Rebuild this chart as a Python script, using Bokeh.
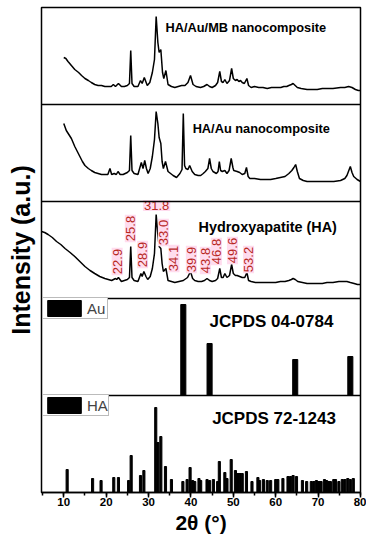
import math
import numpy as np
from bokeh.plotting import figure
from bokeh.models import Range1d, Span, Legend, LegendItem, SingleIntervalTicker, FixedTicker
from bokeh.core.properties import value
from bokeh.embed import file_html
from bokeh.resources import INLINE

FONT = "Liberation Sans"
PANEL = 97

# ---- HA/Au/MB nanocomposite (top) ----
mb_tt = [10.0, 10.5, 11.0, 12.0, 12.6, 13.5, 14.2, 15.0, 15.8, 16.5,
         17.3, 18.1, 18.9, 19.7, 20.5, 21.2, 21.7, 22.2, 22.9, 23.6,
         24.3, 25.0, 25.5, 25.8, 26.1, 26.6, 27.5, 28.1, 28.5, 29.0,
         29.7, 30.3, 30.9, 31.4, 31.8, 32.2, 32.5, 32.9, 33.3, 33.6,
         34.1, 34.6, 35.4, 36.2, 37.0, 37.8, 38.6, 39.3, 39.9, 40.5,
         41.2, 42.25, 43.0, 43.8, 44.4, 45.0, 45.8, 46.3, 46.8, 47.2,
         47.6, 48.0, 48.5, 49.1, 49.6, 50.0, 50.5, 50.9, 51.3, 51.7,
         52.1, 52.6, 53.2, 53.6, 54.2, 55.0, 56.0, 57.0, 58.0, 59.0,
         60.3, 61.2, 61.9, 62.6, 63.1, 63.7, 64.1, 64.6, 65.1, 66.0,
         67.4, 68.5, 69.8, 71.0, 72.1, 73.5, 75.3, 76.3, 77.2, 78.0,
         78.8, 79.5, 80.0]
mb_int = [47, 46, 43, 38, 35, 32, 29, 26, 24, 22,
          20, 19, 19, 18, 18, 18, 20, 18, 21, 18,
          18, 19, 21, 54, 21, 18, 18, 24, 21, 27,
          19, 22, 32, 45, 88, 62, 52, 55, 32, 26,
          34, 20, 18, 17, 18, 19, 19, 22, 29, 20,
          18, 17, 18, 20, 18, 17, 19, 22, 33, 23,
          22, 25, 21, 24, 36, 26, 24, 25, 23, 24,
          22, 21, 26, 19, 17, 18, 17, 17, 16, 17,
          17, 17, 18, 18, 19, 20, 21, 19, 17, 16,
          15, 15, 15, 16, 16, 16, 17, 17, 18, 17,
          15, 14, 14]

# ---- HA/Au nanocomposite ----
au_tt = [10.0, 10.6, 11.2, 11.8, 12.6, 13.2, 13.8, 14.4, 15.0, 15.8,
         16.5, 17.3, 18.1, 18.9, 19.7, 20.4, 20.9, 21.3, 21.9, 22.4,
         22.8, 23.3, 24.0, 25.0, 25.5, 25.8, 26.1, 26.6, 27.5, 28.3,
         28.7, 29.1, 29.5, 29.9, 30.4, 30.9, 31.4, 31.8, 32.2, 32.5,
         32.9, 33.2, 33.5, 34.0, 34.6, 35.2, 35.8, 36.6, 37.4, 37.9,
         38.2, 38.5, 38.8, 39.3, 39.7, 40.3, 40.9, 41.7, 42.3, 42.9,
         43.4, 44.0, 44.4, 44.8, 45.2, 46.0, 46.4, 46.7, 47.0, 47.4,
         48.0, 48.5, 49.0, 49.5, 49.9, 50.1, 50.9, 51.5, 52.1, 52.7,
         53.1, 53.5, 53.9, 55.0, 56.4, 57.6, 58.8, 60.0, 61.1, 62.2,
         63.1, 63.8, 64.3, 64.7, 65.1, 65.6, 66.5, 67.4, 68.6, 69.8,
         71.0, 72.1, 73.7, 75.3, 76.3, 76.8, 77.6, 78.0, 78.4, 79.2,
         80.0]
au_int = [78, 71, 67, 63, 55, 50, 45, 40, 36, 33,
          31, 29, 28, 27, 27, 27, 33, 27, 28, 27,
          30, 27, 27, 29, 31, 66, 31, 28, 27, 39,
          33, 41, 33, 28, 33, 45, 62, 90, 78, 64,
          58, 40, 33, 40, 30, 28, 26, 24, 28, 32,
          88, 36, 33, 32, 36, 30, 27, 26, 26, 28,
          30, 33, 43, 33, 30, 28, 30, 40, 31, 30,
          31, 28, 31, 43, 34, 31, 30, 29, 27, 28,
          34, 25, 23, 23, 22, 22, 22, 23, 24, 25,
          28, 31, 34, 37, 30, 23, 21, 20, 20, 20,
          20, 20, 20, 21, 23, 26, 35, 29, 25, 22,
          20]

# ---- Hydroxyapatite (HA) ----
ha_tt = [4.75, 5.5, 6.3, 7.3, 8.3, 9.3, 10.3, 11.5, 12.6, 13.8,
         15.0, 16.2, 17.3, 18.5, 19.7, 20.5, 21.3, 22.2, 22.5, 22.9,
         23.6, 24.3, 25.0, 25.5, 25.8, 26.1, 26.6, 27.5, 28.2, 28.5,
         28.9, 29.4, 29.8, 30.4, 30.9, 31.4, 31.8, 32.2, 32.5, 32.9,
         33.2, 33.5, 34.1, 34.6, 35.4, 36.2, 37.2, 38.2, 39.2, 39.9,
         40.4, 40.9, 41.7, 42.5, 43.2, 43.8, 44.4, 45.0, 45.8, 46.3,
         46.8, 47.2, 47.6, 48.0, 48.5, 49.1, 49.6, 50.0, 50.5, 50.9,
         51.5, 52.1, 52.7, 53.2, 53.6, 54.2, 55.2, 56.4, 57.6, 58.8,
         60.0, 61.1, 62.2, 63.1, 63.7, 64.1, 64.6, 65.2, 66.3, 67.4,
         68.6, 69.8, 71.0, 72.1, 73.5, 74.9, 75.9, 76.8, 77.6, 78.5,
         79.3, 80.0]
ha_int = [67, 66, 64, 61, 57, 54, 50, 46, 42, 37,
          32, 28, 25, 22, 20, 19, 18, 20, 19, 21,
          17, 18, 19, 21, 52, 21, 18, 17, 25, 22,
          27, 22, 19, 22, 30, 45, 84, 64, 52, 50,
          35, 27, 30, 18, 17, 16, 17, 18, 21, 27,
          20, 18, 17, 17, 18, 20, 18, 17, 18, 20,
          30, 21, 21, 25, 21, 23, 34, 25, 23, 23,
          22, 21, 21, 26, 18, 17, 16, 16, 16, 16,
          16, 17, 17, 18, 19, 20, 19, 17, 16, 15,
          15, 15, 15, 16, 16, 17, 17, 17, 16, 15,
          14, 14]

# ---- JCPDS 04-0784 (Au) ----
au_ref_tt = [38.2, 44.4, 64.6, 77.6]
au_ref_int = [91, 52, 36, 39]

# ---- JCPDS 72-1243 (HA) ----
ha_ref_tt = [10.8, 16.8, 18.8, 21.8, 22.9, 25.3, 25.9, 28.1, 28.9, 31.7,
             32.2, 32.9, 34.0, 35.4, 38.1, 39.1, 39.8, 40.4, 40.9, 41.9,
             42.3, 43.8, 44.4, 45.3, 46.3, 46.7, 48.0, 48.5, 49.5, 50.5,
             51.1, 51.6, 52.1, 53.1, 54.4, 55.8, 56.2, 57.1, 58.0, 58.8,
             60.0, 60.5, 61.7, 62.9, 63.5, 64.1, 64.9, 66.3, 67.3, 68.4,
             69.0, 69.6, 70.2, 70.7, 71.5, 72.0, 72.5, 72.9, 73.7, 74.1,
             74.9, 75.7, 76.3, 77.0, 77.6, 78.3]
ha_ref_int = [23, 14, 12, 15, 15, 12, 37, 17, 22, 85,
              50, 56, 26, 13, 11, 13, 25, 12, 11, 14,
              12, 13, 12, 13, 11, 31, 20, 14, 33, 22,
              19, 19, 19, 21, 11, 15, 12, 13, 12, 12,
              13, 13, 14, 16, 16, 17, 16, 12, 11, 11,
              11, 12, 11, 11, 13, 12, 11, 11, 13, 13,
              11, 13, 13, 14, 13, 14]

# ---- peak labels on the HA pattern ----
peak_labels = ["22.9", "25.8", "28.9", "31.8", "33.0", "34.1",
               "39.9", "43.8", "46.8", "49.6", "53.2"]
lbl_x = [22.6, 25.7, 28.6, 31.9, 33.5, 36.0, 40.1, 43.4, 46.0, 49.8, 53.6]
lbl_y = [37, 70, 44, 93, 66, 40, 39, 38, 47, 48, 39]
lbl_angle = [math.pi / 2 if s != "31.8" else 0.0 for s in peak_labels]

# ---- panel titles ----
titles = ["HA/Au/MB nanocomposite", "HA/Au nanocomposite", "Hydroxyapatite (HA)",
          "JCPDS 04-0784", "JCPDS 72-1243"]
title_x = [34.0, 40.4, 41.8, 44.4, 45.0]
title_y = [465, 364, 266, 171, 74]
title_size = ["12.8px", "12.8px", "14.4px", "17px", "17px"]

p = figure(width=366, height=544,
           x_range=Range1d(4.75, 80), y_range=Range1d(0, 5 * PANEL),
           output_backend="svg", toolbar_location=None,
           min_border_left=41, min_border_right=6, min_border_top=7, min_border_bottom=52)
p.background_fill_color = "white"
p.border_fill_color = "white"
p.xgrid.visible = False
p.ygrid.visible = False
p.outline_line_color = "black"
p.outline_line_width = 1.5
p.outline_line_alpha = 1.0

# curves
p.line(mb_tt, np.array(mb_int) + 4 * PANEL, line_color="black", line_width=1.5)
p.line(au_tt, np.array(au_int) + 3 * PANEL, line_color="black", line_width=1.5)
p.line(ha_tt, np.array(ha_int) + 2 * PANEL, line_color="black", line_width=1.5)

# reference sticks
r_au = p.vbar(x=au_ref_tt, bottom=PANEL, top=np.array(au_ref_int) + PANEL, width=1.2,
              fill_color="black", line_color="black")
r_ha = p.vbar(x=ha_ref_tt, bottom=0, top=ha_ref_int, width=0.5,
              fill_color="black", line_color="black")

for k in range(1, 5):
    p.add_layout(Span(location=k * PANEL, dimension="width", line_color="black", line_width=1.5))

# peak labels
p.text(x=lbl_x, y=np.array(lbl_y) + 2 * PANEL, text=peak_labels, angle=lbl_angle,
       text_font=value(FONT), text_font_size=value("13px"), text_color="#b8281f",
       text_align="center", text_baseline="middle",
       background_fill_color="#ffdcee", padding=1)

# titles
p.text(x=title_x, y=title_y, text=titles, text_font=value(FONT), text_font_style="bold",
       text_font_size=title_size, text_color="black", text_align="left",
       text_baseline="alphabetic")

# legends
for r, lab, loc in [(r_au, "Au", (1, 173)), (r_ha, "HA", (1, 76))]:
    lg = Legend(items=[LegendItem(label=lab, renderers=[r])], location=loc,
                glyph_width=42, glyph_height=20, padding=0, margin=0, spacing=0,
                label_standoff=2, label_height=20, label_text_font=FONT,
                label_text_font_size="15px", label_text_baseline="middle",
                border_line_color="#777777", border_line_width=1,
                background_fill_color="white", background_fill_alpha=1)
    p.add_layout(lg)

# x axis
xa = p.xaxis[0]
xa.ticker = SingleIntervalTicker(interval=10, num_minor_ticks=2)
xa.major_tick_in = 0
xa.major_tick_out = 5
xa.minor_tick_in = 0
xa.minor_tick_out = 3
xa.major_tick_line_width = 1.5
xa.minor_tick_line_width = 1.5
xa.axis_line_width = 1.5
xa.major_label_text_font = FONT
xa.major_label_text_font_style = "bold"
xa.major_label_text_font_size = "11.5px"
xa.major_label_text_color = "black"
xa.major_label_standoff = 0
xa.axis_label = "2θ (°)"
xa.axis_label_text_font = FONT
xa.axis_label_text_font_style = "bold"
xa.axis_label_text_font_size = "21px"
xa.axis_label_text_color = "black"
xa.axis_label_standoff = 2

# y axis: label only
ya = p.yaxis[0]
ya.ticker = FixedTicker(ticks=[])
ya.major_tick_line_color = None
ya.minor_tick_line_color = None
ya.major_label_text_font_size = "0px"
ya.axis_line_color = None
ya.axis_label = "Intensity (a.u.)"
ya.axis_label_text_font = FONT
ya.axis_label_text_font_style = "bold"
ya.axis_label_text_font_size = "25px"
ya.axis_label_text_color = "black"
ya.axis_label_standoff = 7

open("out.html", "w").write(file_html(p, INLINE))
